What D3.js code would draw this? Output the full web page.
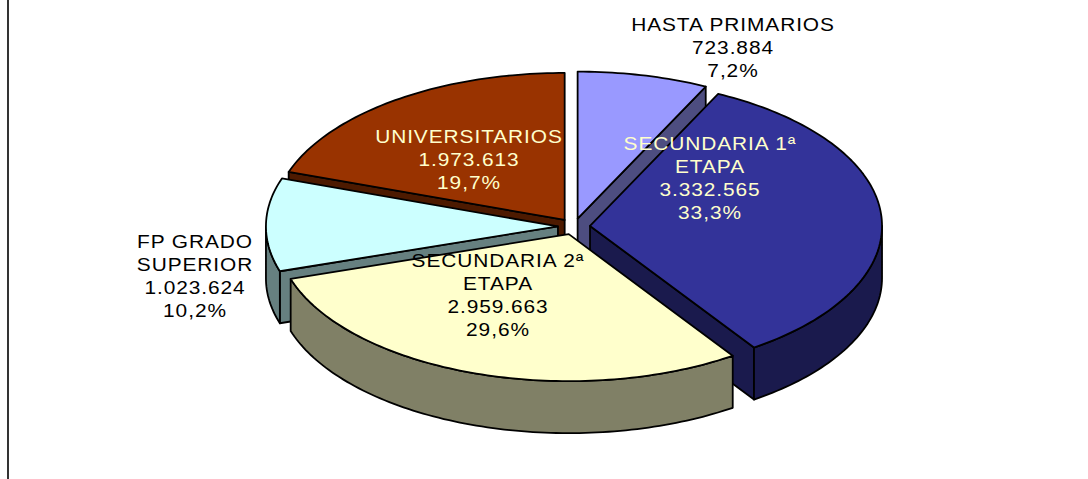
<!DOCTYPE html>
<html><head><meta charset="utf-8">
<style>html,body{margin:0;padding:0;background:#fff}svg{display:block}</style>
<script src="https://cdn.jsdelivr.net/npm/d3@7/dist/d3.min.js"></script>
</head><body><svg id="c" width="1088" height="479"></svg>
<script>
const categories = [["HASTA PRIMARIOS"],["SECUNDARIA 1ª","ETAPA"],["SECUNDARIA 2ª","ETAPA"],["FP GRADO","SUPERIOR"],["UNIVERSITARIOS"]];
const values = [723884,3332565,2959663,1023624,1973613];
const topColors = ["#9999FF","#333399","#FFFFCC","#CCFFFF","#993300"];
const sideColors = ["#4D4D80","#1A1A4D","#808066","#668080","#4D1A00"];
const textColors = ["#000","#FFFFCC","#000","#000","#FFFFCC"];
const labelCenters = [[733,31],[710,150],[498,267],[195,248],[469,143]];
const drawOrder = [4,0,3,1,2];

const W=1088,H=479, cx=574, cy=226.5, rx=292, ry=147, depth=52, explode=0.055, lineH=23;
const es = d3.formatLocale({decimal:",",thousands:".",grouping:[3],currency:["","€"]});
const fmtV = es.format(",d"), fmtP = es.format(".1%");
const total = d3.sum(values);
const svg = d3.select("#c");
svg.append("line").attr("x1",8).attr("x2",8).attr("y1",0).attr("y2",H).attr("stroke","#000").attr("stroke-width",1.6);

const arcs = d3.pie().sort(null).value(d=>d).startAngle(0).endAngle(2*Math.PI)(values);
const X = d3.scaleLinear().domain([-1,1]).range([-rx,rx]);
const Y = d3.scaleLinear().domain([-1,1]).range([ry,-ry]);
const line = d3.line().x(d=>d[0]).y(d=>d[1]);
const samples = (a,b)=>{const n=Math.max(2,Math.ceil((b-a)/0.02));return d3.range(n+1).map(i=>a+(b-a)*i/n);};

const g = svg.append("g");
drawOrder.forEach(i=>{
  const a=arcs[i], mid=(a.startAngle+a.endAngle)/2;
  const ox=cx+explode*X(Math.sin(mid)), oy=cy+explode*Y(Math.cos(mid));
  const P=(t,d=0)=>[ox+X(Math.sin(t)),oy+Y(Math.cos(t))+d];
  const O=(d=0)=>[ox,oy+d];
  const style=(p,fill)=>p.attr("fill",fill).attr("stroke","#000").attr("stroke-width",1.8).attr("stroke-linejoin","round");
  const s=g.append("g");
  if(a.endAngle<Math.PI) style(s.append("path").attr("d",line([O(),P(a.endAngle),P(a.endAngle,depth),O(depth)])+"Z"),sideColors[i]);
  if(a.startAngle>Math.PI) style(s.append("path").attr("d",line([O(),P(a.startAngle),P(a.startAngle,depth),O(depth)])+"Z"),sideColors[i]);
  const t0=Math.max(a.startAngle,Math.PI/2), t1=Math.min(a.endAngle,3*Math.PI/2);
  if(t1>t0){
    const ts=samples(t0,t1);
    style(s.append("path").attr("d",line([...ts.map(t=>P(t)),...ts.slice().reverse().map(t=>P(t,depth))])+"Z"),sideColors[i]);
  }
  style(s.append("path").attr("d",line([O(),...samples(a.startAngle,a.endAngle).map(t=>P(t))])+"Z"),topColors[i]);
});

const lab = svg.append("g").attr("font-family","'Liberation Sans',Arial,sans-serif").attr("font-size",18).attr("text-anchor","middle").attr("letter-spacing",0.8);
categories.forEach((c,i)=>{
  const lines=[...c,fmtV(values[i]),fmtP(values[i]/total)];
  const t=lab.append("text").attr("fill",textColors[i]).attr("transform",`translate(${labelCenters[i][0]},0) scale(1.16,1)`);
  lines.forEach((l,k)=>t.append("tspan").attr("x",0).attr("y",labelCenters[i][1]+k*lineH).text(l));
});
</script></body></html>
